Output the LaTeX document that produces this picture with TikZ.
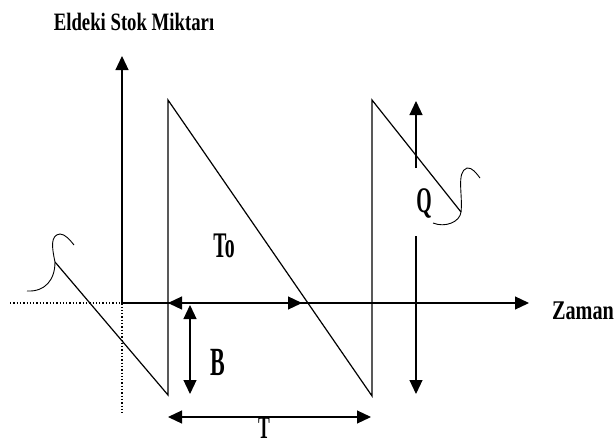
\documentclass[tikz,border=0pt]{standalone}
\usepackage{fontspec}
\setmainfont{Liberation Serif}
\newfontfamily\condfont[FakeStretch=0.75]{Liberation Serif}
\newfontfamily\lblfont[FakeStretch=0.55]{Liberation Serif}
\usetikzlibrary{arrows.meta}

\begin{document}
\begin{tikzpicture}[
    x=1pt, y=-1pt,
    line width=1.2pt,
    tip/.style={-{Triangle[length=14pt,width=13pt]}},
    tips/.style={{Triangle[length=14pt,width=13pt]}-{Triangle[length=14pt,width=13pt]}},
    ttl/.style={font=\condfont\bfseries\fontsize{25}{25}\selectfont, inner sep=0pt},
    lbl/.style={font=\lblfont\bfseries\fontsize{36}{36}\selectfont, inner sep=0pt}
]
\useasboundingbox (0,0) rectangle (615,444);

% axes
\coordinate (O) at (122,303);
\coordinate (ytop) at (122,56);
\coordinate (xend) at (529,303);
\coordinate (xleft) at (10,303);
\coordinate (ybot) at (122,415);
\draw[tip] (O) -- (ytop);
\draw[tip] (O) -- (xend);
\draw[dotted, line width=1.3pt] (xleft) -- (O) -- (ybot);

\node[ttl] (title) at (134,22) {Eldeki Stok Miktarı};
\node[ttl, font=\condfont\bfseries\fontsize{27}{27}\selectfont] (zaman) at (583,311) {Zaman};

% stock level
\coordinate (s0) at (55,262);
\coordinate (b1) at (168,395);
\coordinate (t1) at (168,100);
\coordinate (b2) at (372,396);
\coordinate (t2) at (372,100);
\coordinate (s1) at (461,212);
\draw (s0) -- (b1) -- (t1) -- (b2) -- (t2) -- (s1);

% break marks
\draw[line width=0.9pt] (27,291) .. controls (45,292) and (55,280) .. (s0)
  .. controls (52,248) and (50,235) .. (60,234) .. controls (65,234) and (70,240) .. (74,245);
\draw[line width=0.9pt] (433,223) .. controls (445,228) and (460,222) .. (s1)
  .. controls (463,195) and (456,172) .. (467,168) .. controls (472,167) and (477,174) .. (480,178);

% To
\coordinate (to1) at (168,303);
\coordinate (to2) at (302,303);
\draw[tips] (to1) -- (to2);
\node[lbl] (To) at (224,246) {To};

% B
\coordinate (bb1) at (190,305);
\coordinate (bb2) at (190,394);
\draw[tips] (bb1) -- (bb2);
\node[lbl, font=\lblfont\bfseries\fontsize{40}{40}\selectfont] (B) at (218,362) {B};

% T
\coordinate (tt1) at (168,417);
\coordinate (tt2) at (371,417);
\draw[tips] (tt1) -- (tt2);
\node[lbl, font=\lblfont\bfseries\fontsize{32}{32}\selectfont] (T) at (264,428) {T};

% Q
\coordinate (q1) at (416,168);
\coordinate (q2) at (416,101);
\coordinate (q3) at (416,236);
\coordinate (q4) at (416,394);
\draw[tip] (q1) -- (q2);
\draw[tip] (q3) -- (q4);
\node[lbl] (Q) at (424,203) {Q};
\end{tikzpicture}
\end{document}
